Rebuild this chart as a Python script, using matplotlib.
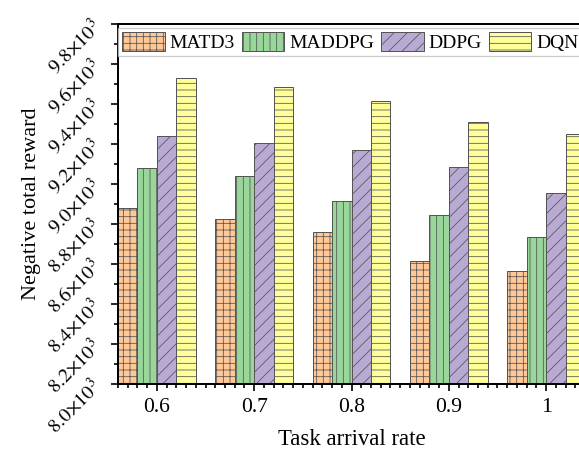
import matplotlib
matplotlib.use("Agg")
import matplotlib.pyplot as plt
import numpy as np
from matplotlib.ticker import MultipleLocator, FixedLocator

categories = [0.6, 0.7, 0.8, 0.9, 1.0]
tick_labels = ["0.6", "0.7", "0.8", "0.9", "1"]
series_names = ["MATD3", "MADDPG", "DDPG", "DQN"]
matd3 = [8880, 8825, 8758, 8617, 8563]
maddpg = [9080, 9040, 8915, 8847, 8735]
ddpg = [9240, 9207, 9172, 9087, 8953]
dqn = [9530, 9483, 9415, 9312, 9248]
yticks = [8000, 8200, 8400, 8600, 8800, 9000, 9200, 9400, 9600, 9800]

colors = ["#FFC896", "#99D69A", "#B9AAD4", "#FFFF99"]
hatches = ["++", "||", "//", "--"]

plt.rcParams['font.family'] = ['Liberation Serif', 'DejaVu Serif']
plt.rcParams['mathtext.fontset'] = 'stix'
plt.rcParams['hatch.linewidth'] = 0.7

dpi = 80
fig = plt.figure(figsize=(579 / dpi, 452 / dpi), dpi=dpi)
ax = fig.add_axes([118 / 579, 1 - 384 / 452, (585 - 118) / 579, (384 - 24) / 452])

width = 0.02
offsets = [-0.03, -0.01, 0.01, 0.03]
x = np.array(categories)
for vals, name, c, h, off in zip([matd3, maddpg, ddpg, dqn], series_names, colors, hatches, offsets):
    ax.bar(x + off, vals, width, color=c, edgecolor="#555555", linewidth=0.9,
           hatch=h, label=name, zorder=2)

ax.set_xlim(0.56, 1.04)
ax.set_ylim(8000, 9800)
ax.xaxis.set_major_locator(FixedLocator(categories))
ax.set_xticklabels(tick_labels, fontsize=19.5)
ax.xaxis.set_minor_locator(MultipleLocator(0.01))
ax.set_yticks(yticks)
ax.set_yticklabels([r"$%.1f{\times}10^{3}$" % (v / 1000) for v in yticks],
                   rotation=45, fontsize=18, ha='right', va='center', rotation_mode='anchor')
ax.yaxis.set_minor_locator(MultipleLocator(100))
ax.tick_params(axis='both', which='major', direction='out', length=6, width=1.5)
ax.tick_params(axis='both', which='minor', direction='out', length=3.5, width=1.5)
ax.tick_params(axis='x', which='major', pad=7)
ax.tick_params(axis='y', which='major', pad=12)

for s in ax.spines.values():
    s.set_linewidth(1.8)

ax.set_xlabel("Task arrival rate", fontsize=20.5, labelpad=10)
ax.set_ylabel("Negative total reward", fontsize=20, labelpad=2)

leg = ax.legend(loc='upper left', bbox_to_anchor=(0.0, 0.988), ncol=4, fontsize=17.5,
                frameon=True, fancybox=False, edgecolor="#c0c0c0", borderaxespad=0,
                handlelength=2.2, handleheight=1.1, handletextpad=0.25,
                columnspacing=0.35, borderpad=0.2)
leg.get_frame().set_linewidth(1.2)

fig.savefig("out.png", dpi=dpi)
